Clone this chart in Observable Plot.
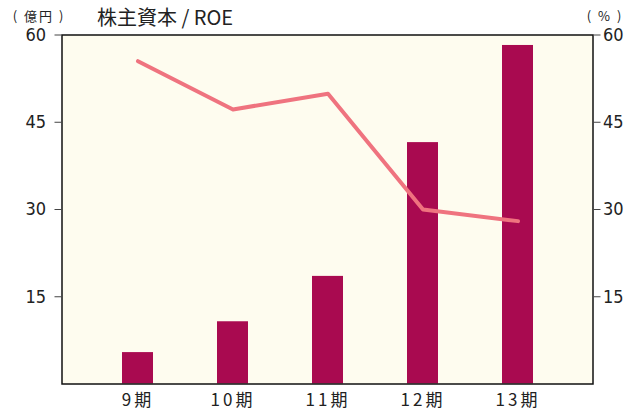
<!DOCTYPE html>
<html>
<head>
<meta charset="utf-8">
<script src="https://cdn.jsdelivr.net/npm/d3@7"></script>
<script src="https://cdn.jsdelivr.net/npm/@observablehq/plot@0.6"></script>
<style>
  html, body { margin: 0; padding: 0; background: #ffffff; }
  #chart { width: 632px; height: 411px; }
</style>
</head>
<body>
<div id="chart"></div>
<script>
const periods = ["9期", "10期", "11期", "12期", "13期"];
const equity = [5.4, 10.7, 18.5, 41.5, 58.2];   // 株主資本（億円）
const roe = [55.5, 47.2, 49.9, 30.0, 28.0];     // ROE（%）
const yTicks = [15, 30, 45, 60];

const data = periods.map((p, i) => ({ period: p, equity: equity[i], roe: roe[i] }));

const numFont = "'Liberation Sans Narrow', 'DejaVu Sans Condensed', 'Roboto', sans-serif";
const jpFont = "'Noto Sans CJK JP', 'Noto Sans', sans-serif";

const chart = Plot.plot({
  width: 632,
  height: 411,
  marginLeft: 61.5,
  marginRight: 39.5,
  marginTop: 34.5,
  marginBottom: 27.5,
  style: { background: "#ffffff", overflow: "visible" },
  x: { type: "band", domain: periods, paddingInner: 0.677, paddingOuter: 0.607 },
  y: { domain: [0, 60] },
  marks: [
    Plot.frame({ fill: "#fefcef", stroke: null }),
    Plot.barY(data, { x: "period", y: "equity", fill: "#a90a50" }),
    Plot.lineY(data, { x: "period", y: "roe", stroke: "#ef737f", strokeWidth: 4, strokeLinecap: "round", strokeLinejoin: "round" }),
    Plot.frame({ stroke: "#111111", strokeWidth: 1.5 }),
    Plot.axisY({ ticks: yTicks, anchor: "left", tickSize: 7, tickPadding: 9, label: null, stroke: "#444", fill: "#222", fontSize: 18, fontFamily: numFont }),
    Plot.axisY({ ticks: yTicks, anchor: "right", tickSize: 7, tickPadding: 3, label: null, stroke: "#444", fill: "#222", fontSize: 18, fontFamily: numFont }),
    Plot.axisX({ tickSize: 0, tickPadding: 10, label: null, fill: "#222", fontSize: 17, fontFamily: jpFont })
  ]
});

document.getElementById("chart").appendChild(chart);

const svg = d3.select(chart);
svg.selectAll("[aria-label='x-axis tick label'] text").style("letter-spacing", "3px");

svg.append("text")
  .attr("x", 39).attr("y", 16).attr("dy", "0.35em")
  .attr("text-anchor", "middle")
  .attr("font-family", jpFont).attr("font-size", 13).attr("fill", "#222")
  .style("letter-spacing", "2px")
  .text("( 億円 )");
svg.append("text")
  .attr("x", 97).attr("y", 18).attr("dy", "0.35em")
  .attr("text-anchor", "start")
  .attr("font-family", jpFont).attr("font-size", 20).attr("fill", "#222")
  .text("株主資本 / ROE");
svg.append("text")
  .attr("x", 605).attr("y", 16).attr("dy", "0.35em")
  .attr("text-anchor", "middle")
  .attr("font-family", jpFont).attr("font-size", 13).attr("fill", "#222")
  .style("letter-spacing", "2px")
  .text("( % )");
</script>
</body>
</html>
